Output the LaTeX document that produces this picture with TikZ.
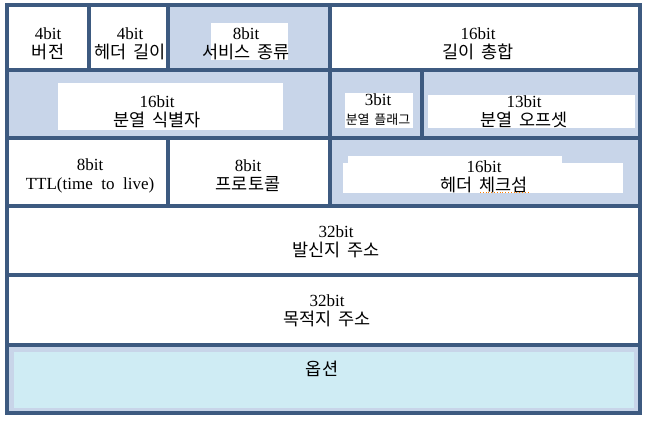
\documentclass[tikz,border=0pt]{standalone}
\usepackage{fontspec}
\setmainfont{Liberation Serif}
\newfontfamily\kr{Noto Sans CJK KR}[WordSpace=1.6]
\definecolor{bd}{HTML}{3D5A80}
\definecolor{lb}{HTML}{C8D5E9}
\definecolor{cy}{HTML}{CFECF4}
\newcommand{\krt}[1]{{\kr\fontsize{17.5}{19}\selectfont #1}}
\begin{document}
\begin{tikzpicture}[x=1pt,y=-1pt,
  cellline/.style={draw=bd, line width=3.5pt},
  patch/.style={fill=white},
  lbl/.style={align=center, inner sep=0pt, font=\fontsize{17}{19}\selectfont},
]
\useasboundingbox (0,0) rectangle (647,424);
% coloured backgrounds
\fill[lb] (168,5) rectangle (330,70);
\fill[lb] (7,70) rectangle (640,138);
\fill[lb] (330,138) rectangle (640,206);
\fill[lb] (7,345) rectangle (640,413);
\fill[cy] (14,352) rectangle (634,408);
% white patches behind texts
\fill[patch] (211,23) rectangle (288,60);
\fill[patch] (58,83) rectangle (283,130);
\fill[patch] (345,93) rectangle (413,128);
\fill[patch] (428,95) rectangle (635,128);
\fill[patch] (343,163) rectangle (623,193);
\fill[patch] (348,156) rectangle (562,164);
% cell borders
\draw[cellline] (7,5) rectangle (640,413);
\draw[cellline] (7,70) -- (640,70);
\draw[cellline] (7,138) -- (640,138);
\draw[cellline] (7,206) -- (640,206);
\draw[cellline] (7,275) -- (640,275);
\draw[cellline] (7,345) -- (640,345);
\draw[cellline] (89,5) -- (89,70);
\draw[cellline] (168,5) -- (168,70);
\draw[cellline] (330,5) -- (330,70);
\draw[cellline] (330,70) -- (330,138);
\draw[cellline] (422,70) -- (422,138);
\draw[cellline] (168,138) -- (168,206);
\draw[cellline] (330,138) -- (330,206);
% texts
\node[lbl] (ver) at (48,44) {4bit\\\krt{버전}};
\node[lbl] (ihl) at (130,44) {4bit\\\krt{헤더 길이}};
\node[lbl] (tos) at (246,44) {8bit\\\krt{서비스 종류}};
\node[lbl] (len) at (478,44) {16bit\\\krt{길이 총합}};
\node[lbl] (id) at (157,112) {16bit\\\krt{분열 식별자}};
\node[lbl] (flg) at (378,110) {3bit\\{\kr\fontsize{13}{17}\selectfont 분열 플래그}};
\node[lbl] (off) at (524,112) {13bit\\\krt{분열 오프셋}};
\node[lbl] (ttl) at (90,176) {8bit\\TTL(time\ \ to\ \ live)};
\node[lbl] (pro) at (248,176) {8bit\\\krt{프로토콜}};
\node[lbl] (chk) at (484,177) {16bit\\\krt{헤더 체크섬}};
\node[lbl] (src) at (336,242) {32bit\\\krt{발신지 주소}};
\node[lbl] (dst) at (327,311) {32bit\\\krt{목적지 주소}};
\node[lbl] (opt) at (322,369) {\krt{옵션}};
% spell-check underline
\draw[orange, dotted, line width=0.8pt] (480,192) -- (528,192);
\end{tikzpicture}
\end{document}
